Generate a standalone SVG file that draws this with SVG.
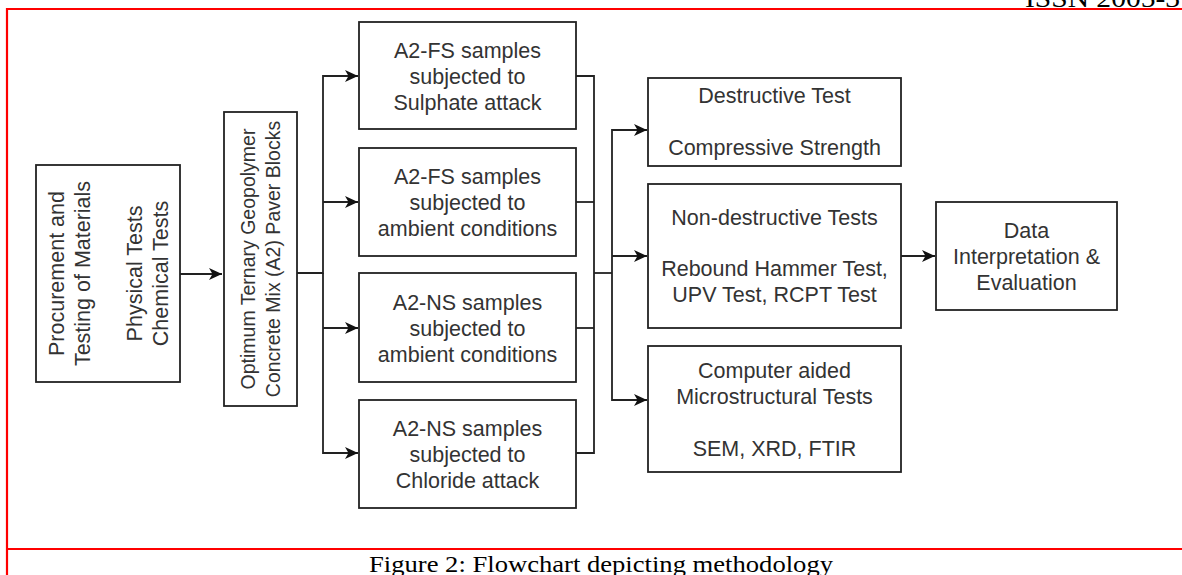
<svg xmlns="http://www.w3.org/2000/svg" width="1182" height="575" viewBox="0 0 1182 575">
<style>
.box{fill:#fff;stroke:#222;stroke-width:1.8}
.t{font-family:"Liberation Sans",Arial,sans-serif;font-size:21.5px;fill:#333;text-anchor:middle}
.c{fill:none;stroke:#222;stroke-width:1.8}
.red{stroke:#f00;stroke-width:2.2;fill:none}
.serif{font-family:"Liberation Serif","Times New Roman",serif;fill:#000}
</style>
<defs>
<marker id="arr" markerUnits="userSpaceOnUse" markerWidth="14" markerHeight="13" refX="13" refY="6" orient="auto">
<path d="M0,0 L13,6 L0,12 L3.5,6 Z" fill="#111"/>
</marker>
</defs>
<rect width="1182" height="575" fill="#fff"/>
<text class="serif" x="1025" y="7" font-size="26" textLength="155" lengthAdjust="spacingAndGlyphs">ISSN 2005-3</text>
<g id="frame">
<path class="red" d="M1182,9 H7 V575"/>
<path class="red" d="M7,549 H1182"/>
</g>
<g id="connectors">
<path class="c" d="M180,274 H222" marker-end="url(#arr)"/>
<path class="c" d="M297,273 H323 V76 H358" marker-end="url(#arr)"/>
<path class="c" d="M323,202 H358" marker-end="url(#arr)"/>
<path class="c" d="M323,273 V453 H358" marker-end="url(#arr)"/>
<path class="c" d="M323,328 H358" marker-end="url(#arr)"/>
<path class="c" d="M576,76 H594 V453 H576"/>
<path class="c" d="M576,202 H594"/>
<path class="c" d="M576,328 H594"/>
<path class="c" d="M594,273 H612"/>
<path class="c" d="M612,256 V130 H647" marker-end="url(#arr)"/>
<path class="c" d="M612,256 H647" marker-end="url(#arr)"/>
<path class="c" d="M612,256 V400 H647" marker-end="url(#arr)"/>
<path class="c" d="M901,256 H935" marker-end="url(#arr)"/>
</g>
<g id="procurement">
<rect class="box" x="36" y="165" width="144" height="217"/>
<text class="t" transform="translate(108,273.5) rotate(-90)"><tspan x="0" y="-44.5">Procurement and</tspan><tspan x="0" y="-18.5">Testing of Materials</tspan><tspan x="0" y="33.5">Physical Tests</tspan><tspan x="0" y="59.5">Chemical Tests</tspan></text>
</g>
<g id="optimum">
<rect class="box" x="224" y="112" width="73" height="294"/>
<text class="t" font-size="19.5" style="font-size:19.5px" transform="translate(260.5,259) rotate(-90)"><tspan x="0" y="-5.5">Optimum Ternary Geopolymer</tspan><tspan x="0" y="19.5">Concrete Mix (A2) Paver Blocks</tspan></text>
</g>
<g id="fs-sulphate">
<rect class="box" x="359" y="22" width="217" height="107"/>
<text class="t"><tspan x="467.5" y="57.5">A2-FS samples</tspan><tspan x="467.5" y="83.5">subjected to</tspan><tspan x="467.5" y="109.5">Sulphate attack</tspan></text>
</g>
<g id="fs-ambient">
<rect class="box" x="359" y="148" width="217" height="108"/>
<text class="t"><tspan x="467.5" y="183.5">A2-FS samples</tspan><tspan x="467.5" y="209.5">subjected to</tspan><tspan x="467.5" y="235.5">ambient conditions</tspan></text>
</g>
<g id="ns-ambient">
<rect class="box" x="359" y="273" width="217" height="109"/>
<text class="t"><tspan x="467.5" y="309.5">A2-NS samples</tspan><tspan x="467.5" y="335.5">subjected to</tspan><tspan x="467.5" y="361.5">ambient conditions</tspan></text>
</g>
<g id="ns-chloride">
<rect class="box" x="359" y="400" width="217" height="108"/>
<text class="t"><tspan x="467.5" y="435.5">A2-NS samples</tspan><tspan x="467.5" y="461.5">subjected to</tspan><tspan x="467.5" y="487.5">Chloride attack</tspan></text>
</g>
<g id="destructive">
<rect class="box" x="648" y="78" width="253" height="88"/>
<text class="t"><tspan x="774.5" y="102.5">Destructive Test</tspan><tspan x="774.5" y="154.5">Compressive Strength</tspan></text>
</g>
<g id="nondestructive">
<rect class="box" x="648" y="184" width="253" height="144"/>
<text class="t"><tspan x="774.5" y="224.5">Non-destructive Tests</tspan><tspan x="774.5" y="275.5">Rebound Hammer Test,</tspan><tspan x="774.5" y="301.5">UPV Test, RCPT Test</tspan></text>
</g>
<g id="microstructural">
<rect class="box" x="648" y="346" width="253" height="126"/>
<text class="t"><tspan x="774.5" y="377.5">Computer aided</tspan><tspan x="774.5" y="403.5">Microstructural Tests</tspan><tspan x="774.5" y="455.5">SEM, XRD, FTIR</tspan></text>
</g>
<g id="data">
<rect class="box" x="936" y="202" width="181" height="108"/>
<text class="t"><tspan x="1026.5" y="237.5">Data</tspan><tspan x="1026.5" y="263.5">Interpretation &amp;</tspan><tspan x="1026.5" y="289.5">Evaluation</tspan></text>
</g>
<text class="serif" x="601" y="572" font-size="24" text-anchor="middle" textLength="464" lengthAdjust="spacingAndGlyphs">Figure 2: Flowchart depicting methodology</text>
</svg>
